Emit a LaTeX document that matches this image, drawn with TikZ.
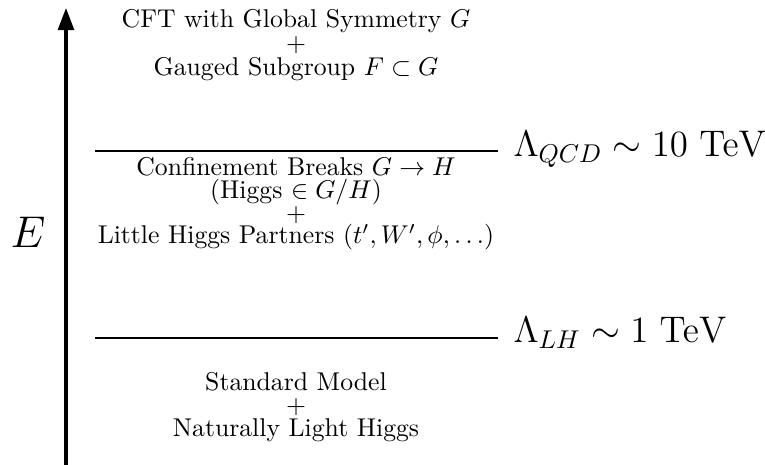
\documentclass[tikz,border=0pt]{standalone}
\usetikzlibrary{arrows.meta}
\begin{document}
\begin{tikzpicture}[x=0.389pt,y=-0.389pt,
  axisline/.style={line width=1.2pt,-{Triangle[length=8.6pt,width=6.2pt]}},
  scaleline/.style={line width=0.7pt},
  block/.style={align=center,inner sep=0pt,font=\fontsize{10}{#1}\selectfont,
    execute at begin node={\lineskiplimit=-20pt\relax}},
  block/.default=9,
  scalelabel/.style={anchor=base west,inner sep=0pt,font=\fontsize{13.6}{16}\selectfont},
  axislabel/.style={inner sep=0pt,font=\fontsize{19}{23}\selectfont}]
\useasboundingbox (0,0) rectangle (765,465);
% energy axis
\coordinate (a0) at (66,465);
\coordinate (a1) at (66,8);
\draw[axisline] (a0) -- (a1);
\node[axislabel] (E) at (28,232) {$E$};
% scale lines
\coordinate (l1a) at (95,151);
\coordinate (l1b) at (498,151);
\coordinate (l2a) at (95,338);
\coordinate (l2b) at (498,338);
\draw[scaleline] (l1a) -- (l1b);
\draw[scaleline] (l2a) -- (l2b);
\node[scalelabel] (qcd) at (513,157) {$\Lambda_{QCD}\sim 10\ \mathrm{TeV}$};
\node[scalelabel] (lh) at (513,343) {$\Lambda_{LH}\sim 1\ \mathrm{TeV}$};
% blocks
\node[block=9.3] (top) at (296,45) {CFT with Global Symmetry $G$\\$+$\\Gauged Subgroup $F\subset G$};
\node[block=8.8] (mid) at (296,204) {Confinement Breaks $G\to H$\\(Higgs $\in G/H$)\\$+$\\Little Higgs Partners $(t',W',\phi,\ldots)$};
\node[block=9] (bot) at (296,407) {Standard Model\\$+$\\Naturally Light Higgs};
\end{tikzpicture}
\end{document}
